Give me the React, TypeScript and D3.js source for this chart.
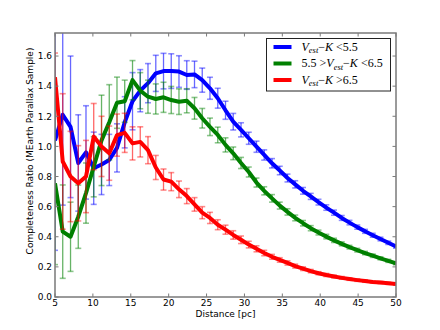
import React from "react";
import * as d3 from "d3";

const distances = [5.00, 6.02, 7.05, 8.07, 9.09, 10.11, 11.14, 12.16, 13.18, 14.20, 15.23, 16.25, 17.27, 18.30, 19.32, 20.34, 21.36, 22.39, 23.41, 24.43, 25.45, 26.48, 27.50, 28.52, 29.55, 30.57, 31.59, 32.61, 33.64, 34.66, 35.68, 36.70, 37.73, 38.75, 39.77, 40.80, 41.82, 42.84, 43.86, 44.89, 45.91, 46.93, 47.95, 48.98, 50.00];

const blueRatio = [1.04, 1.21, 1.13, 0.89, 0.96, 0.855, 0.88, 0.91, 0.99, 1.16, 1.30, 1.37, 1.42, 1.485, 1.50, 1.50, 1.497, 1.474, 1.478, 1.44, 1.386, 1.32, 1.24, 1.164, 1.11, 1.054, 0.998, 0.943, 0.888, 0.84, 0.79, 0.748, 0.705, 0.668, 0.63, 0.594, 0.56, 0.525, 0.494, 0.464, 0.436, 0.41, 0.385, 0.36, 0.335];
const blueErr = [0.73, 0.6, 0.47, 0.32, 0.31, 0.24, 0.2, 0.17, 0.16, 0.17, 0.19, 0.14, 0.13, 0.12, 0.118, 0.115, 0.105, 0.095, 0.088, 0.08, 0.073, 0.066, 0.06, 0.055, 0.047, 0.04, 0.037, 0.034, 0.031, 0.028, 0.026, 0.024, 0.022, 0.02, 0.019, 0.018, 0.017, 0.016, 0.015, 0.014, 0.013, 0.013, 0.012, 0.011, 0.011];

const greenRatio = [0.755, 0.434, 0.40, 0.533, 0.69, 0.865, 1.04, 1.16, 1.29, 1.30, 1.44, 1.37, 1.33, 1.315, 1.326, 1.308, 1.297, 1.303, 1.253, 1.187, 1.13, 1.076, 1.01, 0.954, 0.89, 0.83, 0.76, 0.705, 0.655, 0.607, 0.565, 0.525, 0.49, 0.457, 0.428, 0.401, 0.376, 0.353, 0.331, 0.311, 0.292, 0.274, 0.257, 0.24, 0.224];
const greenErr = [0.54, 0.31, 0.23, 0.21, 0.2, 0.2, 0.3, 0.25, 0.17, 0.14, 0.13, 0.12, 0.11, 0.1, 0.1, 0.09, 0.085, 0.08, 0.072, 0.065, 0.058, 0.052, 0.047, 0.042, 0.037, 0.033, 0.03, 0.027, 0.025, 0.023, 0.021, 0.019, 0.018, 0.017, 0.016, 0.015, 0.014, 0.013, 0.012, 0.012, 0.011, 0.011, 0.01, 0.01, 0.01];

const redRatio = [1.46, 0.90, 0.80, 0.755, 0.80, 1.065, 1.00, 0.955, 1.075, 1.09, 1.02, 1.03, 0.975, 0.86, 0.78, 0.766, 0.715, 0.67, 0.615, 0.56, 0.525, 0.48, 0.447, 0.412, 0.38, 0.348, 0.32, 0.292, 0.267, 0.246, 0.226, 0.205, 0.188, 0.172, 0.158, 0.146, 0.136, 0.127, 0.119, 0.112, 0.106, 0.10, 0.096, 0.091, 0.086];
const redErr = [0.16, 0.45, 0.30, 0.25, 0.24, 0.22, 0.2, 0.18, 0.14, 0.13, 0.11, 0.1, 0.09, 0.08, 0.07, 0.06, 0.055, 0.05, 0.045, 0.04, 0.037, 0.033, 0.03, 0.028, 0.025, 0.022, 0.02, 0.018, 0.016, 0.015, 0.014, 0.013, 0.012, 0.011, 0.01, 0.01, 0.009, 0.009, 0.008, 0.008, 0.008, 0.007, 0.007, 0.007, 0.007];

const xTicks = [5, 10, 15, 20, 25, 30, 35, 40, 45, 50];
const yTicks = [0.0, 0.2, 0.4, 0.6, 0.8, 1.0, 1.2, 1.4, 1.6];

const series = [
  { name: "lt55", color: "#0000ff", values: blueRatio, errs: blueErr },
  { name: "mid", color: "#008000", values: greenRatio, errs: greenErr },
  { name: "gt65", color: "#ff0000", values: redRatio, errs: redErr },
];

const W = 440, H = 330;
const L = 55, R = 396, T = 33, B = 297;

function LegendLabel({ kind, x, y }: { kind: number; x: number; y: number }) {
  const V = (
    <>
      <tspan fontStyle="italic">V</tspan>
      <tspan fontStyle="italic" fontSize={8.5} dy={2.5}>est</tspan>
      <tspan dy={-2.5}>{"\u2212"}</tspan>
      <tspan fontStyle="italic">K</tspan>
    </>
  );
  return (
    <text x={x} y={y} fontFamily="'Liberation Serif', serif" fontSize={12} fill="#000">
      {kind === 1 ? <tspan>{"5.5 >"}</tspan> : null}
      {V}
      <tspan>{kind === 2 ? " >6.5" : kind === 1 ? " <6.5" : " <5.5"}</tspan>
    </text>
  );
}

export default function App() {
  const x = d3.scaleLinear().domain([5, 50]).range([L, R]);
  const y = d3.scaleLinear().domain([0, 1.753]).range([B, T]);
  const line = d3
    .line<number>()
    .x((_, i) => x(distances[i]))
    .y((d) => y(d));
  const font = "'DejaVu Sans', sans-serif";
  const spine = "#7a7a7a";

  return (
    <svg width={W} height={H} style={{ position: "absolute", left: 0, top: 0, background: "#fff" }}>
      <defs>
        <clipPath id="plot">
          <rect x={L} y={T} width={R - L} height={B - T} />
        </clipPath>
      </defs>
      <rect x={0} y={0} width={W} height={H} fill="#fff" />
      <g clipPath="url(#plot)">
        {series.map((s) => (
          <g key={s.name}>
            <path d={line(s.values) || ""} fill="none" stroke={s.color} strokeWidth={4} strokeLinejoin="round" />
            {s.values.map((v, i) => {
              const cx = x(distances[i]);
              const y1 = y(v + s.errs[i]);
              const y0 = y(v - s.errs[i]);
              return (
                <g key={i} stroke={s.color} strokeWidth={1.3}>
                  <line x1={cx} x2={cx} y1={y1} y2={y0} strokeOpacity={0.6} />
                  <line x1={cx - 3} x2={cx + 3} y1={y1} y2={y1} strokeOpacity={0.45} strokeWidth={1.6} />
                  <line x1={cx - 3} x2={cx + 3} y1={y0} y2={y0} strokeOpacity={0.45} strokeWidth={1.6} />
                </g>
              );
            })}
          </g>
        ))}
      </g>
      {/* frame */}
      <rect x={L} y={T} width={R - L} height={B - T} fill="none" stroke={spine} strokeWidth={1.5} />
      {/* x ticks */}
      {xTicks.map((t) => (
        <g key={"x" + t}>
          <line x1={x(t)} x2={x(t)} y1={B} y2={B - 3.5} stroke={spine} strokeWidth={1} />
          <line x1={x(t)} x2={x(t)} y1={T} y2={T + 3.5} stroke={spine} strokeWidth={1} />
          <text x={x(t)} y={306} textAnchor="middle" fontFamily={font} fontSize={9} fill="#000">
            {t}
          </text>
        </g>
      ))}
      {yTicks.map((t) => (
        <g key={"y" + t}>
          <line x1={L} x2={L + 3.5} y1={y(t)} y2={y(t)} stroke={spine} strokeWidth={1} />
          <line x1={R} x2={R - 3.5} y1={y(t)} y2={y(t)} stroke={spine} strokeWidth={1} />
          <text x={52} y={y(t) + 3.3} textAnchor="end" fontFamily={font} fontSize={9} fill="#000">
            {t.toFixed(1)}
          </text>
        </g>
      ))}
      <text x={(L + R) / 2} y={317} textAnchor="middle" fontFamily={font} fontSize={9} fill="#000">
        Distance [pc]
      </text>
      <text
        transform={`translate(33,151) rotate(-90)`}
        textAnchor="middle"
        fontFamily={font}
        fontSize={9}
        fill="#000"
      >
        Completeness Ratio (MEarth Parallax Sample)
      </text>
      {/* legend */}
      <rect x={266.5} y={38.5} width={124} height={52.5} fill="#fff" stroke="#222" strokeWidth={1} />
      {series.map((s, i) => {
        const ly = 47 + i * 16.5;
        return (
          <g key={"lg" + s.name}>
            <line x1={273.5} x2={291.5} y1={ly} y2={ly} stroke={s.color} strokeWidth={4} />
            <LegendLabel kind={i} x={301.5} y={ly + 3.5} />
          </g>
        );
      })}
    </svg>
  );
}
